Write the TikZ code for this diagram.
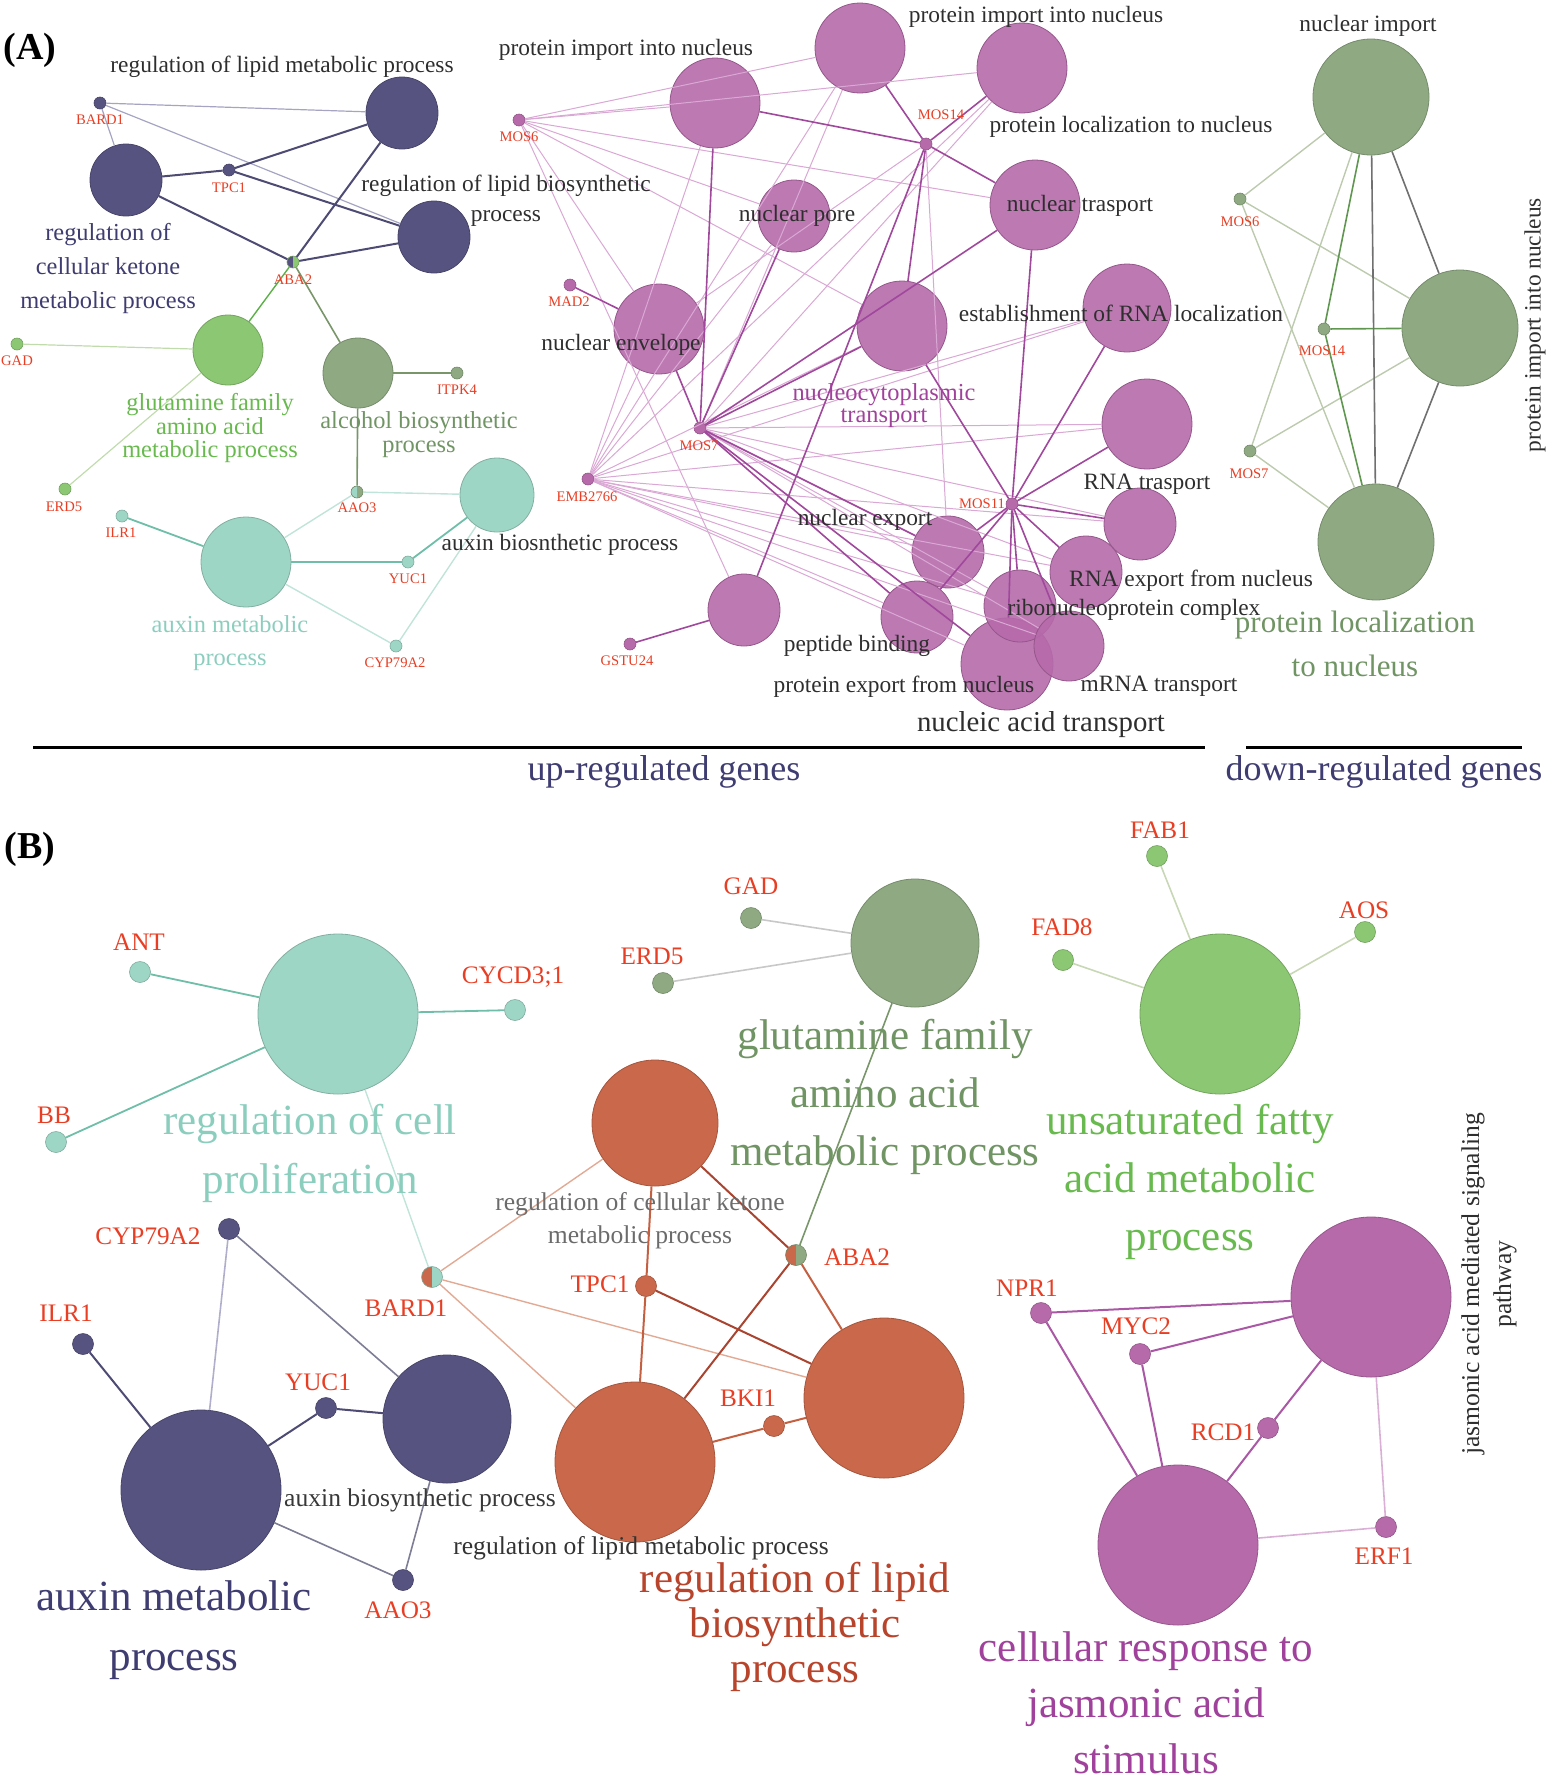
\documentclass[tikz,border=0pt]{standalone}
\usepackage{fontspec}
\setmainfont{Liberation Serif}
\usepackage{xcolor}

\definecolor{blueN}{RGB}{86,83,128}
\definecolor{tealN}{RGB}{158,214,198}
\definecolor{grnN}{RGB}{140,200,115}
\definecolor{gryN}{RGB}{143,170,130}
\definecolor{magN}{RGB}{182,106,170}
\definecolor{orgN}{RGB}{201,104,74}
\definecolor{geneRed}{RGB}{232,62,36}
\definecolor{navyT}{RGB}{62,60,112}
\definecolor{tealT}{RGB}{140,206,190}
\definecolor{grnT}{RGB}{104,186,78}
\definecolor{gryT}{RGB}{112,148,100}
\definecolor{magT}{RGB}{160,66,156}
\definecolor{orgT}{RGB}{184,68,44}

\tikzset{
  term/.style 2 args={circle, inner sep=0pt, minimum size=#2, fill=#1, draw=#1!82!black, line width=0.4pt},
  mterm/.style={term={magN}{#1}, fill opacity=0.9},
  dotA/.style={circle, inner sep=0pt, minimum size=6pt, fill=#1, draw=#1!80!black, line width=0.3pt},
  dotB/.style={circle, inner sep=0pt, minimum size=10.5pt, fill=#1, draw=#1!80!black, line width=0.3pt},
  halfA/.style 2 args={dotA=#2, path picture={\fill[#1] (path picture bounding box.south west) rectangle (path picture bounding box.north);}},
  halfB/.style 2 args={dotB=#2, path picture={\fill[#1] (path picture bounding box.south west) rectangle (path picture bounding box.north);}},
  gA/.style={text=geneRed, font=\fontsize{7.3}{8}\selectfont},
  gB/.style={text=geneRed, font=\fontsize{12.6}{14}\selectfont},
  tA/.style={text=black!82, font=\fontsize{11.7}{#1}\selectfont, align=center},
  tA/.default=15pt,
  cA/.style={font=\fontsize{12.2}{#1}\selectfont, align=center},
  tB/.style={font=\fontsize{12.8}{#1}\selectfont, align=center},
  tB/.default=16.5pt,
  big/.style={font=\fontsize{21.5}{#1}\selectfont, align=center},
  eBlue/.style={draw=blueN!90!black, line width=1pt},
  eBlueL/.style={draw={rgb,255:red,165;green,165;blue,195}, line width=0.6pt},
  eGrn/.style={draw={rgb,255:red,90;green,175;blue,70}, line width=0.7pt},
  eGry/.style={draw={rgb,255:red,120;green,150;blue,105}, line width=0.8pt},
  eGrnL/.style={draw={rgb,255:red,192;green,220;blue,172}, line width=0.6pt},
  eTeal/.style={draw={rgb,255:red,110;green,190;blue,168}, line width=0.9pt},
  eTealL/.style={draw={rgb,255:red,192;green,228;blue,218}, line width=0.7pt},
  eMag/.style={draw={rgb,255:red,160;green,72;blue,156}, line width=0.8pt},
  eMagL/.style={draw={rgb,255:red,218;green,168;blue,212}, line width=0.5pt},
  eDn/.style={draw={rgb,255:red,188;green,202;blue,174}, line width=0.7pt},
  eDnG/.style={draw={rgb,255:red,95;green,150;blue,80}, line width=0.8pt},
  eDnD/.style={draw={rgb,255:red,112;green,112;blue,112}, line width=0.8pt},
  eOrg/.style={draw={rgb,255:red,196;green,96;blue,66}, line width=1pt},
  eOrgD/.style={draw={rgb,255:red,168;green,68;blue,48}, line width=1pt},
  eOrgL/.style={draw={rgb,255:red,226;green,170;blue,148}, line width=0.7pt},
  eGray/.style={draw={rgb,255:red,200;green,200;blue,200}, line width=0.8pt},
  eBlueG/.style={draw={rgb,255:red,125;green,125;blue,150}, line width=0.8pt},
  eLav/.style={draw={rgb,255:red,175;green,175;blue,205}, line width=0.8pt},
  eMagB/.style={draw={rgb,255:red,170;green,88;blue,165}, line width=1pt},
  eMagBL/.style={draw={rgb,255:red,218;green,175;blue,214}, line width=0.8pt},
  eUfa/.style={draw={rgb,255:red,200;green,215;blue,182}, line width=0.8pt},
}

\begin{document}
\begin{tikzpicture}[x=0.5pt,y=-0.5pt]
\useasboundingbox (0,0) rectangle (1550,1789);

% ---------------- (A) up-regulated, left cluster
\node[term={blueN}{36pt}] (lmpA) at (402,113) {};
\node[term={blueN}{36pt}] (ckA) at (126,180) {};
\node[term={blueN}{36pt}] (lbpA) at (434,237) {};
\node[term={grnN}{35pt}] (gfaA) at (228,350) {};
\node[term={gryN}{35pt}] (alcA) at (358,373) {};
\node[term={tealN}{37pt}] (axbA) at (497,495) {};
\node[term={tealN}{45pt}] (axmA) at (246,562) {};
\node[dotA=blueN] (bardA) at (100,103) {};
\node[dotA=blueN] (tpcA) at (229,170) {};
\node[halfA={blueN}{grnN}] (abaA) at (293,262) {};
\node[dotA=grnN] (gadA) at (17,344) {};
\node[dotA=grnN] (erdA) at (65,489) {};
\node[dotA=gryN] (itpA) at (457,373) {};
\node[halfA={tealN}{gryN}] (aaoA) at (357,492) {};
\node[dotA=tealN] (ilrA) at (122,516) {};
\node[dotA=tealN] (yucA) at (408,562) {};
\node[dotA=tealN] (cypA) at (396,646) {};

\draw[eBlueL] (bardA) -- (lmpA);
\draw[eBlueL] (bardA) -- (lbpA);
\draw[eBlueL] (bardA) -- (ckA);
\foreach \t in {ckA,lmpA,lbpA} \draw[eBlue] (tpcA) -- (\t);
\foreach \t in {ckA,lmpA,lbpA} \draw[eBlue] (abaA) -- (\t);
\draw[eGrn] (abaA) -- (gfaA);
\draw[eGry] (abaA) -- (alcA);
\draw[eGry] (alcA) -- (aaoA);
\draw[eGry] (alcA) -- (itpA);
\draw[eGrnL] (gadA) -- (gfaA);
\draw[eGrnL] (erdA) -- (gfaA);
\draw[eTeal] (ilrA) -- (axmA);
\draw[eTeal] (axmA) -- (yucA);
\draw[eTeal] (yucA) -- (axbA);
\foreach \t in {axbA,axmA} \draw[eTealL] (aaoA) -- (\t);
\foreach \t in {axbA,axmA} \draw[eTealL] (cypA) -- (\t);

% ---------------- (A) up-regulated, middle cluster
\node[mterm=45pt] (pinL) at (715,103) {};
\node[mterm=45pt] (pinT) at (860,48) {};
\node[mterm=45pt] (plnA) at (1022,68) {};
\node[mterm=36pt] (npo) at (794,216) {};
\node[mterm=45pt] (ntr) at (1035,205) {};
\node[mterm=45pt] (nenv) at (659,329) {};
\node[mterm=45pt] (ncyt) at (902,326) {};
\node[mterm=44pt] (erl) at (1127,308) {};
\node[mterm=45pt] (rtr) at (1147,424) {};
\node[mterm=36pt] (rtr2) at (1140,524) {};
\node[mterm=36pt] (nexp) at (948,552) {};
\node[mterm=36pt] (rexp) at (1086,572) {};
\node[mterm=36pt] (pbind) at (917,617) {};
\node[mterm=46pt] (pexp) at (1007,664) {};
\node[mterm=36pt] (rnp) at (1020,606) {};
\node[mterm=35pt] (mrna) at (1069,646) {};
\node[mterm=36pt] (gstc) at (744,610) {};
\node[dotA=magN] (mos6A) at (519,120) {};
\node[dotA=magN] (mos14A) at (926,144) {};
\node[dotA=magN] (mad2A) at (570,285) {};
\node[dotA=magN] (mos7A) at (700,428) {};
\node[dotA=magN] (embA) at (588,479) {};
\node[dotA=magN] (mos11A) at (1012,504) {};
\node[dotA=magN] (gstA) at (630,644) {};

\foreach \t in {pinL,pinT,plnA,npo,ntr,nenv,ncyt,gstc} \draw[eMagL] (mos6A) -- (\t);
\foreach \t in {pinL,pinT,plnA,npo,nenv,ncyt,erl,rtr,rtr2,nexp,rexp,rnp,mrna,pbind,pexp} \draw[eMagL] (embA) -- (\t);
\foreach \t in {plnA,pinT,erl,rtr,rtr2,rexp,rnp,mrna} \draw[eMagL] (mos7A) -- (\t);
\foreach \t in {nenv,nexp} \draw[eMagL] (mos14A) -- (\t);
\foreach \t in {pinL,pinT,plnA,ntr,ncyt,gstc} \draw[eMag] (mos14A) -- (\t);
\foreach \t in {nenv,npo,pinL,ntr,ncyt,nexp,pbind,pexp} \draw[eMag] (mos7A) -- (\t);
\foreach \t in {ntr,ncyt,erl,rtr,rtr2,nexp,rexp,rnp,mrna,pbind,pexp} \draw[eMag] (mos11A) -- (\t);
\draw[eMag] (mad2A) -- (nenv);
\draw[eMag] (gstA) -- (gstc);

% ---------------- (A) down-regulated
\node[term={gryN}{58pt}] (niA) at (1371,97) {};
\node[term={gryN}{58pt}] (pinR) at (1460,328) {};
\node[term={gryN}{58pt}] (plR) at (1376,542) {};
\node[dotA=gryN] (mos6R) at (1240,199) {};
\node[dotA=gryN] (mos14R) at (1324,329) {};
\node[dotA=gryN] (mos7R) at (1250,451) {};
\foreach \t in {niA,pinR,plR} \draw[eDn] (mos6R) -- (\t);
\foreach \t in {niA,pinR,plR} \draw[eDn] (mos7R) -- (\t);
\foreach \t in {niA,pinR,plR} \draw[eDnG] (mos14R) -- (\t);
\draw[eDnD] (niA) -- (plR);
\draw[eDnD] (niA) -- (pinR);
\draw[eDnD] (pinR) -- (plR);

% rules
\coordinate (upL) at (33,747);
\coordinate (upR) at (1205,747);
\coordinate (dnL) at (1246,747);
\coordinate (dnR) at (1522,747);
\draw[line width=1.5pt] (upL) -- (upR);
\draw[line width=1.5pt] (dnL) -- (dnR);

% ---------------- (B)
\node[term={tealN}{80pt}] (rcpB) at (338,1014) {};
\node[term={blueN}{80pt}] (axmB) at (201,1490) {};
\node[term={blueN}{64pt}] (axbB) at (447,1419) {};
\node[term={orgN}{63pt}] (rckB) at (655,1123) {};
\node[term={orgN}{80pt}] (lmpB) at (635,1462) {};
\node[term={orgN}{80pt}] (lbpB) at (884,1398) {};
\node[term={gryN}{64pt}] (gfaB) at (915,943) {};
\node[term={grnN}{80pt}] (ufaB) at (1220,1014) {};
\node[term={magN}{80pt}] (jamB) at (1371,1297) {};
\node[term={magN}{80pt}] (crjB) at (1178,1545) {};

\node[dotB=tealN] (antB) at (140,972) {};
\node[dotB=tealN] (cycB) at (515,1010) {};
\node[dotB=tealN] (bbB) at (56,1142) {};
\node[dotB=blueN] (cypB) at (229,1229) {};
\node[dotB=blueN] (ilrB) at (83,1344) {};
\node[dotB=blueN] (yucB) at (326,1408) {};
\node[dotB=blueN] (aaoB) at (403,1580) {};
\node[halfB={orgN}{tealN}] (bardB) at (432,1277) {};
\node[dotB=orgN] (tpcB) at (646,1286) {};
\node[halfB={orgN}{gryN}] (abaB) at (796,1255) {};
\node[dotB=orgN] (bkiB) at (774,1426) {};
\node[dotB=gryN] (gadB) at (751,918) {};
\node[dotB=gryN] (erdB) at (663,983) {};
\node[dotB=grnN] (fabB) at (1157,856) {};
\node[dotB=grnN] (fadB) at (1063,960) {};
\node[dotB=grnN] (aosB) at (1365,932) {};
\node[dotB=magN] (nprB) at (1041,1313) {};
\node[dotB=magN] (mycB) at (1140,1354) {};
\node[dotB=magN] (rcdB) at (1268,1428) {};
\node[dotB=magN] (erfB) at (1386,1527) {};

\foreach \g in {antB,cycB,bbB} \draw[eTeal] (\g) -- (rcpB);
\draw[eTealL] (rcpB) -- (bardB);
\draw[eLav] (cypB) -- (axmB);
\draw[eBlueG] (cypB) -- (axbB);
\draw[eBlue] (ilrB) -- (axmB);
\draw[eBlue] (axmB) -- (yucB);
\draw[eBlue] (yucB) -- (axbB);
\draw[eBlueG] (axmB) -- (aaoB);
\draw[eBlueG] (aaoB) -- (axbB);
\foreach \t in {rckB,lbpB,lmpB} \draw[eOrgL] (bardB) -- (\t);
\draw[eOrg] (tpcB) -- (rckB);
\draw[eOrg] (tpcB) -- (lmpB);
\draw[eOrgD] (tpcB) -- (lbpB);
\draw[eOrgD] (abaB) -- (rckB);
\draw[eOrgD] (abaB) -- (lmpB);
\draw[eOrg] (abaB) -- (lbpB);
\draw[eOrg] (bkiB) -- (lmpB);
\draw[eOrg] (bkiB) -- (lbpB);
\draw[eGry] (abaB) -- (gfaB);
\draw[eGray] (gadB) -- (gfaB);
\draw[eGray] (erdB) -- (gfaB);
\foreach \g in {fabB,fadB,aosB} \draw[eUfa] (\g) -- (ufaB);
\foreach \g in {nprB,mycB,rcdB} \draw[eMagB] (\g) -- (jamB);
\foreach \g in {nprB,mycB,rcdB} \draw[eMagB] (\g) -- (crjB);
\draw[eMagBL] (erfB) -- (jamB);
\draw[eMagBL] (erfB) -- (crjB);

% ---------------- labels (A)
\node[font=\fontsize{19}{20}\selectfont\bfseries] (panelA) at (30,50) {(A)};
\node[gA] (lBardA) at (100,120) {BARD1};
\node[gA] (lTpcA) at (229,188) {TPC1};
\node[gA] (lAbaA) at (293,280) {ABA2};
\node[gA] (lGadA) at (17,361) {GAD};
\node[gA] (lErdA) at (64,507) {ERD5};
\node[gA] (lItpA) at (457,390) {ITPK4};
\node[gA] (lAaoA) at (357,508) {AAO3};
\node[gA] (lIlrA) at (121,533) {ILR1};
\node[gA] (lYucA) at (408,579) {YUC1};
\node[gA] (lCypA) at (395,663) {CYP79A2};
\node[gA] (lMos6A) at (519,137) {MOS6};
\node[gA] (lMos14A) at (941,115) {MOS14};
\node[gA] (lMad2A) at (569,302) {MAD2};
\node[gA] (lMos7A) at (699,446) {MOS7};
\node[gA] (lEmbA) at (587,497) {EMB2766};
\node[gA] (lMos11A) at (982,504) {MOS11};
\node[gA] (lGstA) at (627,661) {GSTU24};
\node[gA] (lMos6R) at (1240,222) {MOS6};
\node[gA] (lMos14R) at (1322,351) {MOS14};
\node[gA] (lMos7R) at (1249,474) {MOS7};

\node[tA] (tLmpA) at (282,67) {regulation of lipid metabolic process};
\node[tA] (tLbpA) at (506,201) {regulation of lipid biosynthetic\\process};
\node[cA=17pt, text=navyT] (tCkA) at (108,268) {regulation of\\cellular ketone\\metabolic process};
\node[cA=11.8pt, text=grnT] (tGfaA) at (210,428) {glutamine family\\amino acid\\metabolic process};
\node[cA=12pt, text=gryT] (tAlcA) at (419,435) {alcohol biosynthetic\\process};
\node[cA=16.5pt, text=tealT] (tAxmA) at (230,643) {auxin metabolic\\process};
\node[tA] (tAxbA) at (560,545) {auxin biosnthetic process};

\node[tA] (tPinL) at (626,50) {protein import into nucleus};
\node[tA] (tPinT) at (1036,17) {protein import into nucleus};
\node[tA] (tPln) at (1131,127) {protein localization to nucleus};
\node[tA] (tNpo) at (797,216) {nuclear pore};
\node[tA] (tNtr) at (1080,206) {nuclear trasport};
\node[tA] (tNenv) at (621,345) {nuclear envelope};
\node[tA] (tErl) at (1121,313) {establishment of RNA localization};
\node[cA=11pt, text=magT] (tNcyt) at (884,406) {nucleocytoplasmic\\transport};
\node[tA] (tRtr) at (1147,484) {RNA trasport};
\node[tA] (tNexp) at (865,520) {nuclear export};
\node[tA] (tRexp) at (1191,581) {RNA export from nucleus};
\node[tA] (tRnp) at (1134,610) {ribonucleoprotein complex};
\node[tA] (tMrna) at (1159,686) {mRNA transport};
\node[tA] (tPbind) at (857,646) {peptide binding};
\node[tA] (tPexp) at (904,687) {protein export from nucleus};
\node[text=black!82, font=\fontsize{14.4}{16}\selectfont] (tNat) at (1041,725) {nucleic acid transport};

\node[tA] (tNi) at (1368,26) {nuclear import};
\node[font=\fontsize{15.5}{22}\selectfont, align=center, text=gryT] (tPlR) at (1355,644) {protein localization\\to nucleus};
\node[tA, rotate=90] (tPinR) at (1535,325) {protein import into nucleus};

\node[text=navyT, font=\fontsize{18}{20}\selectfont] (tUp) at (664,772) {up-regulated genes};
\node[text=navyT, font=\fontsize{18}{20}\selectfont] (tDown) at (1384,772) {down-regulated genes};

% ---------------- labels (B)
\node[font=\fontsize{19}{20}\selectfont\bfseries] (panelB) at (30,849) {(B)};
\node[gB] (lAntB) at (139,942) {ANT};
\node[gB] (lCycB) at (513,977) {CYCD3;1};
\node[gB] (lBbB) at (54,1115) {BB};
\node[gB] (lCypB) at (148,1236) {CYP79A2};
\node[gB] (lIlrB) at (66,1313) {ILR1};
\node[gB] (lYucB) at (318,1382) {YUC1};
\node[gB] (lAaoB) at (398,1610) {AAO3};
\node[gB] (lBardB) at (406,1308) {BARD1};
\node[gB] (lTpcB) at (600,1284) {TPC1};
\node[gB] (lAbaB) at (857,1257) {ABA2};
\node[gB] (lBkiB) at (748,1398) {BKI1};
\node[gB] (lGadB) at (751,886) {GAD};
\node[gB] (lErdB) at (652,956) {ERD5};
\node[gB] (lFabB) at (1160,830) {FAB1};
\node[gB] (lFadB) at (1062,927) {FAD8};
\node[gB] (lAosB) at (1364,910) {AOS};
\node[gB] (lNprB) at (1027,1288) {NPR1};
\node[gB] (lMycB) at (1136,1326) {MYC2};
\node[gB] (lRcdB) at (1223,1432) {RCD1};
\node[gB] (lErfB) at (1384,1556) {ERF1};

\node[big=29.5pt, text=tealT] (tRcpB) at (310,1153) {regulation of cell\\proliferation};
\node[tB, text=black!78] (tAxbB) at (420,1500) {auxin biosynthetic process};
\node[big=30pt, text=navyT] (tAxmB) at (174,1630) {auxin metabolic\\process};
\node[tB, text=black!58] (tRckB) at (640,1221) {regulation of cellular ketone\\metabolic process};
\node[tB, text=black!80] (tLmpB) at (641,1548) {regulation of lipid metabolic process};
\node[big=22.5pt, text=orgT] (tLbpB) at (795,1627) {regulation of lipid\\biosynthetic\\process};
\node[big=29pt, text=gryT] (tGfaB) at (885,1097) {glutamine family\\amino acid\\metabolic process};
\node[big=29pt, text=grnT] (tUfaB) at (1190,1182) {unsaturated fatty\\acid metabolic\\process};
\node[big=28pt, text=magT] (tCrjB) at (1146,1703) {cellular response to\\jasmonic acid\\stimulus};
\node[tB=16pt, text=black!82, rotate=90] (tJamB) at (1489,1284) {jasmonic acid mediated signaling\\pathway};
\end{tikzpicture}
\end{document}
